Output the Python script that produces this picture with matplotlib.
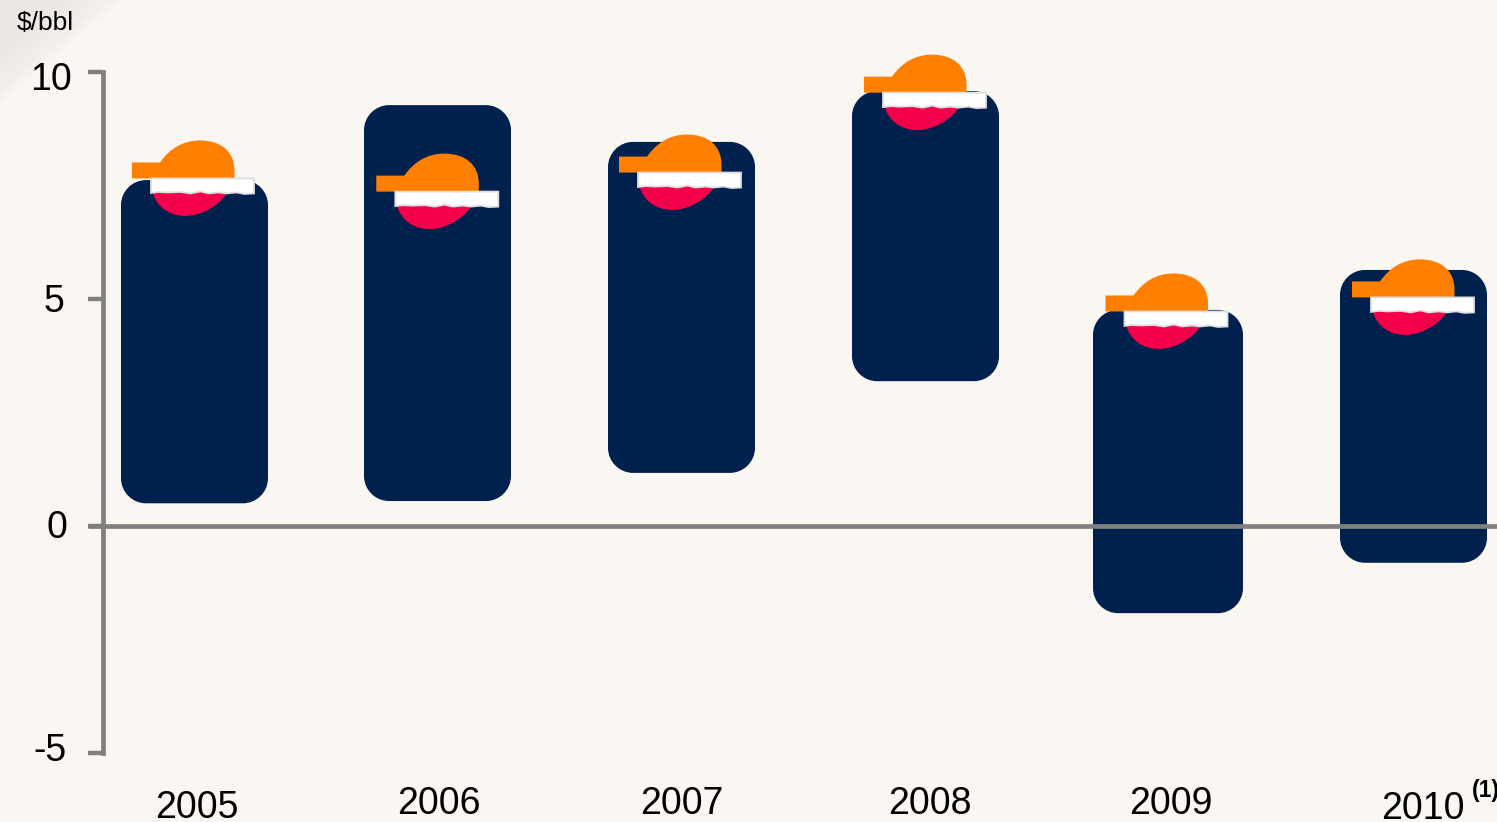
import matplotlib
matplotlib.use("Agg")
import matplotlib.pyplot as plt
from matplotlib.patches import PathPatch, Polygon
from matplotlib.path import Path
from matplotlib.transforms import Affine2D

plt.rcParams["font.family"] = ["Liberation Sans", "DejaVu Sans"]

# Range of each year, low to high, and the marker level ($/bbl)
years = ["2005", "2006", "2007", "2008", "2009", "2010"]
range_high = [7.62, 9.27, 8.46, 9.58, 4.76, 5.64]
range_low = [0.50, 0.55, 1.17, 3.19, -1.92, -0.81]
marker_level = [7.49, 7.20, 7.62, 9.38, 4.56, 4.87]
y_ticks = [10, 5, 0, -5]

BG = "#FAF7F2"
NAVY = "#00204E"
ORANGE = "#FF8000"
RED = "#F5004A"
AXIS = "#808080"

W, H = 1497, 822
PX_X = 243.8   # pixels per category
PX_Y = 45.4    # pixels per $/bbl
X0, Y0 = 194.5, 526

fig = plt.figure(figsize=(W / 100, H / 100), dpi=100, facecolor=BG)
ax = fig.add_axes([0, 0, 1, 1])
ax.set_xlim(-X0 / PX_X, (W - X0) / PX_X)
ax.set_ylim(-(H - Y0) / PX_Y, Y0 / PX_Y)
ax.axis("off")


def fx(px):
    return (px - X0) / PX_X


def fy(py):
    return (Y0 - py) / PX_Y


def rounded_bar(x0, x1, lo, hi, rx, ry):
    # rectangle with elliptical corners, so they look circular on screen
    k = 0.45
    verts = [(x0 + rx, lo), (x1 - rx, lo),
             (x1 - rx * k, lo), (x1, lo + ry * k), (x1, lo + ry),
             (x1, hi - ry),
             (x1, hi - ry * k), (x1 - rx * k, hi), (x1 - rx, hi),
             (x0 + rx, hi),
             (x0 + rx * k, hi), (x0, hi - ry * k), (x0, hi - ry),
             (x0, lo + ry),
             (x0, lo + ry * k), (x0 + rx * k, lo), (x0 + rx, lo),
             (x0 + rx, lo)]
    codes = [Path.MOVETO, Path.LINETO,
             Path.CURVE4, Path.CURVE4, Path.CURVE4,
             Path.LINETO,
             Path.CURVE4, Path.CURVE4, Path.CURVE4,
             Path.LINETO,
             Path.CURVE4, Path.CURVE4, Path.CURVE4,
             Path.LINETO,
             Path.CURVE4, Path.CURVE4, Path.CURVE4,
             Path.CLOSEPOLY]
    return Path(verts, codes)


# faint diagonal shading in the top left corner, soft edge from stacked layers
for reach in range(70, 130, 6):
    ax.add_patch(Polygon([(fx(0), fy(0)), (fx(reach), fy(0)), (fx(0), fy(reach * 0.85))],
                         closed=True, fc="#E4E2DF", ec="none", alpha=0.07, zorder=0))

# rounded range bars
bar_w = 147 / PX_X
nudge = [0, -0.8, -0.6, -0.4, -1.7, 0]
for i, (lo, hi) in enumerate(zip(range_low, range_high)):
    cx = i + nudge[i] / PX_X
    w = bar_w if i != 4 else 150 / PX_X
    ax.add_patch(PathPatch(rounded_bar(cx - w / 2, cx + w / 2, lo, hi, 25 / PX_X, 25 / PX_Y),
                           fc=NAVY, ec="none", zorder=2))

# axis line, ticks and zero line
ax.plot([fx(102.5), fx(102.5)], [10, -5], color=AXIS, lw=3.4, zorder=3, solid_capstyle="projecting")
for v in y_ticks:
    ax.plot([fx(88), fx(103)], [v, v], color=AXIS, lw=3.2, zorder=3, solid_capstyle="butt")
ax.plot([fx(88), fx(W)], [0, 0], color=AXIS, lw=3.4, zorder=3, solid_capstyle="butt")

# marker outlines in pixels around (x, level), y pointing down
cap_verts = [(-62.5, -23.5), (-34.5, -23.5), (-25, -37), (-12, -45.5), (5.5, -45.5),
             (27, -45.5), (40, -34), (40, -15.5), (40, -7.5), (-62.5, -7.5), (-62.5, -23.5)]
cap_codes = [Path.MOVETO, Path.LINETO, Path.CURVE4, Path.CURVE4, Path.CURVE4,
             Path.CURVE4, Path.CURVE4, Path.CURVE4, Path.LINETO, Path.LINETO, Path.CLOSEPOLY]
red_verts = [(-42, 6), (-38, 21), (-25, 30), (-9.5, 30),
             (7, 30), (24, 20), (33.5, 6), (-42, 6)]
red_codes = [Path.MOVETO, Path.CURVE4, Path.CURVE4, Path.CURVE4,
             Path.CURVE4, Path.CURVE4, Path.CURVE4, Path.CLOSEPOLY]
band_verts = [(-43.5, -7.5), (59.5, -7.5), (59.5, 7.5), (50, 8), (42, 6.5), (32, 7.5), (24, 6.5),
              (14, 7.5), (6, 5.5), (-4, 7.5), (-14, 6), (-26, 6.5), (-36, 6), (-43.5, 7), (-43.5, -7.5)]
marker_shift = [0, 1.3, 0, 1, 0, 1]

for i, level in enumerate(marker_level):
    px, py = ax.transData.transform((i + (nudge[i] + marker_shift[i]) / PX_X, level))
    tr = Affine2D().scale(1, -1).translate(px, py)
    ax.add_patch(PathPatch(Path(red_verts, red_codes), fc=RED, ec="none", transform=tr, zorder=4))
    ax.add_patch(PathPatch(Path(cap_verts, cap_codes), fc=ORANGE, ec="none", transform=tr, zorder=4))
    ax.add_patch(Polygon(band_verts, closed=True, fc="white", ec="#DEDEDE", lw=1.3, transform=tr, zorder=5))

# y tick labels
tick_px = [72, 64, 67, 67]
tick_py = [80, 302, 528, 751]
for v, xp, yp in zip(y_ticks, tick_px, tick_py):
    ax.text(fx(xp), fy(yp), f"{v}", ha="right", va="center", fontsize=27, color="black")
ax.text(fx(16.5), fy(23), "$/bbl", ha="left", va="center", fontsize=19, color="black")

# year labels
year_px = [196.5, 439, 682, 929.5, 1171, 1422.5]
year_py = [808, 804, 804, 804, 804, 809]
for label, xp, yp in zip(years, year_px, year_py):
    ax.text(fx(xp), fy(yp), label, ha="center", va="center", fontsize=27, color="black")
ax.text(fx(1472), fy(790), "(1)", ha="left", va="center", fontsize=16.5, fontweight="bold", color="black")

fig.savefig("out.png", dpi=100, facecolor=BG)
